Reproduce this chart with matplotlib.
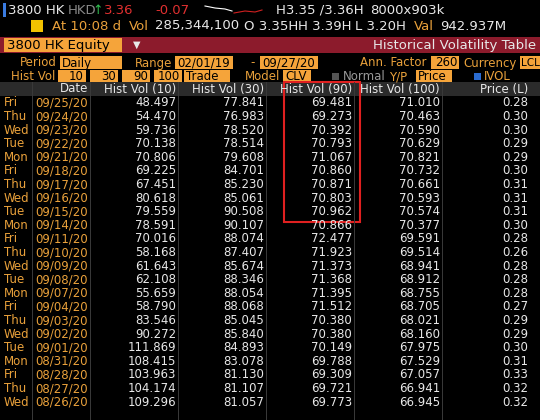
import matplotlib
matplotlib.use('Agg')
import matplotlib.pyplot as plt
from matplotlib.patches import Rectangle

days = ['Fri', 'Thu', 'Wed', 'Tue', 'Mon', 'Fri', 'Thu', 'Wed', 'Tue', 'Mon', 'Fri', 'Thu',
        'Wed', 'Tue', 'Mon', 'Fri', 'Thu', 'Wed', 'Tue', 'Mon', 'Fri', 'Thu', 'Wed']
dates = ['09/25/20', '09/24/20', '09/23/20', '09/22/20', '09/21/20', '09/18/20', '09/17/20',
         '09/16/20', '09/15/20', '09/14/20', '09/11/20', '09/10/20', '09/09/20', '09/08/20',
         '09/07/20', '09/04/20', '09/03/20', '09/02/20', '09/01/20', '08/31/20', '08/28/20',
         '08/27/20', '08/26/20']
hv10 = [48.497, 54.470, 59.736, 70.138, 70.806, 69.225, 67.451, 80.618, 79.559, 78.591, 70.016,
        58.168, 61.643, 62.108, 55.659, 58.790, 83.546, 90.272, 111.869, 108.415, 103.963,
        104.174, 109.296]
hv30 = [77.841, 76.983, 78.520, 78.514, 79.608, 84.701, 85.230, 85.061, 90.508, 90.107, 88.074,
        87.407, 85.674, 88.346, 88.054, 88.068, 85.045, 85.840, 84.893, 83.078, 81.130,
        81.107, 81.057]
hv90 = [69.481, 69.273, 70.392, 70.793, 71.067, 70.860, 70.871, 70.803, 70.962, 70.866, 72.477,
        71.923, 71.373, 71.368, 71.395, 71.512, 70.380, 70.380, 70.149, 69.788, 69.309,
        69.721, 69.773]
hv100 = [71.010, 70.463, 70.590, 70.629, 70.821, 70.732, 70.661, 70.593, 70.574, 70.377, 69.591,
         69.514, 68.941, 68.912, 68.755, 68.705, 68.021, 68.160, 67.975, 67.529, 67.057,
         66.941, 66.945]
price = [0.28, 0.30, 0.30, 0.29, 0.29, 0.30, 0.31, 0.31, 0.31, 0.30, 0.28, 0.26, 0.28, 0.28,
         0.28, 0.27, 0.29, 0.29, 0.30, 0.31, 0.33, 0.32, 0.32]
headers = ['Date', 'Hist Vol (10)', 'Hist Vol (30)', 'Hist Vol (90)', 'Hist Vol (100)', 'Price (L)']

ORANGE = '#e9a13b'
FIELD = '#f5a43a'
WHITE = '#e8e8e8'
FONT = 'Liberation Sans Narrow'

fig = plt.figure(figsize=(5.4, 4.2), dpi=100, facecolor='black')
ax = fig.add_axes([0, 0, 1, 1])
ax.set_xlim(0, 540)
ax.set_ylim(420, 0)
ax.axis('off')
ax.set_facecolor('black')


def t(x, y, s, c=WHITE, ha='left', size=8.5, **kw):
    ax.text(x, y, s, color=c, ha=ha, va='center', fontsize=size, family=[FONT, 'DejaVu Sans'], **kw)


def box(x, y, w, h, c):
    ax.add_patch(Rectangle((x, y), w, h, color=c, lw=0))


# top ticker lines
box(3, 3, 3, 14, '#3a7be0')
t(8, 10, '3800 HK', size=9.5)
t(68, 10, 'HKD', c='#888888', size=9.5)
t(92, 10, '↑', c='#2fbf4f', size=9)
t(104, 10, '3.36', c='#e03030', size=9.5)
t(155, 10, '-0.07', c='#e03030', size=9.5)
ax.plot([205, 215, 225, 232], [6, 8, 9, 11], color='white', lw=0.8)
ax.plot([234, 245, 255, 262], [13, 11, 12, 10], color='#d02020', lw=0.8)
t(276, 10, 'H3.35 /3.36H', size=9.5)
t(370, 10, '8000x903k', size=9.5)
box(31, 20, 12, 12, '#f2c200')
t(52, 26, 'At 10:08 d', c=ORANGE, size=9.5)
t(129, 26, 'Vol', c=ORANGE, size=9.5)
t(155, 26, '285,344,100', size=9.5)
t(244, 26, 'O 3.35H', size=9.5)
t(298, 26, 'H 3.39H', size=9.5)
t(355, 26, 'L 3.20H', size=9.5)
t(414, 26, 'Val', c=ORANGE, size=9.5)
t(440, 26, '942.937M', size=9.5)

# red title bar
box(0, 37, 540, 16, '#8c1b2c')
box(4, 38, 118, 14, FIELD)
t(7, 45, '3800 HK Equity', c='black', size=9.5)
t(133, 45, '▼', size=7)
t(536, 45, 'Historical Volatility Table', ha='right', size=9.5)

# option rows
t(57, 63, 'Period', c=ORANGE, ha='right')
box(60, 56, 62, 13, FIELD); t(62, 63, 'Daily', c='black')
t(172, 63, 'Range', c=ORANGE, ha='right')
box(175, 56, 58, 13, FIELD); t(177, 63, '02/01/19', c='black')
t(250, 63, '-', c=ORANGE)
box(260, 56, 58, 13, FIELD); t(262, 63, '09/27/20', c='black')
t(427, 63, 'Ann. Factor', c=ORANGE, ha='right')
box(431, 56, 28, 13, FIELD); t(457, 63, '260', c='black', ha='right')
t(517, 63, 'Currency', c=ORANGE, ha='right')
box(520, 56, 20, 13, FIELD); t(521, 63, 'LCL', c='black', size=7.5)

t(55, 77, 'Hist Vol', c=ORANGE, ha='right')
for x0, v in zip([58, 90, 122, 154], ['10', '30', '90', '100']):
    box(x0, 70, 28, 13, FIELD)
    t(x0 + 26, 77, v, c='black', ha='right')
box(184, 70, 46, 13, FIELD); t(186, 77, 'Trade', c='black')
t(280, 77, 'Model', c=ORANGE, ha='right')
box(283, 70, 28, 13, FIELD); t(285, 77, 'CLV', c='black')
box(332, 73, 7, 7, '#555555')
t(343, 77, 'Normal', c='#999999')
t(389, 77, 'Y/P', c=ORANGE)
box(416, 70, 36, 13, FIELD); t(418, 77, 'Price', c='black')
box(474, 73, 7, 7, '#2a6bd0')
t(484, 77, 'IVOL', c=ORANGE)

# column header
box(0, 82, 540, 14, '#2b2b2b')
seps = [32, 90, 178, 266, 354, 442]
for s in seps:
    ax.plot([s, s], [82, 420], color='#3a3a3a', lw=0.7)
rights = [88, 176, 264, 352, 440, 528]
for r, h in zip(rights, headers):
    t(r, 89, h, ha='right')

y0, dy = 103, 13.6
for i in range(len(dates)):
    y = y0 + i * dy
    t(4, y, days[i], c=ORANGE)
    t(rights[0], y, dates[i], c=ORANGE, ha='right')
    for r, col in zip(rights[1:5], [hv10, hv30, hv90, hv100]):
        t(r, y, f'{col[i]:.3f}', ha='right')
    t(rights[5], y, f'{price[i]:.2f}', ha='right')

ax.add_patch(Rectangle((284, 82), 76, 140, fill=False, edgecolor='#e02020', lw=1.5))

fig.savefig('out.png', dpi=100, facecolor='black')
